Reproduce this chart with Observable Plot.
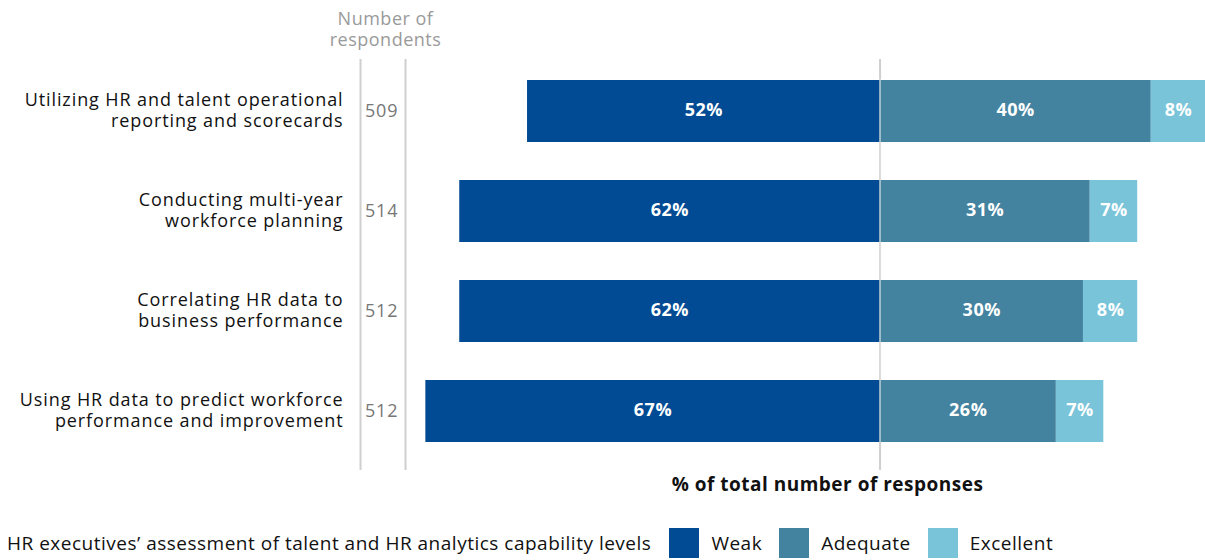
<!DOCTYPE html>
<html><head><meta charset="utf-8">
<script src="https://cdn.jsdelivr.net/npm/d3@7"></script>
<script src="https://cdn.jsdelivr.net/npm/@observablehq/plot@0.6"></script>
<style>
body{margin:0;background:#fff;font-family:"Open Sans",sans-serif;}
#chart svg{display:block}
#chart svg g[aria-label="y-axis tick label"]{letter-spacing:0.9px}
#legend{display:flex;align-items:center;height:30px;margin-top:16px;padding-left:7px;font-size:19px;letter-spacing:0.5px;color:#111;white-space:nowrap}
#legend .sw{width:30px;height:30px;display:inline-block;margin-right:12px}
#legend .title{margin-right:18px}
#legend .lab{margin-right:17px}
</style></head><body><div id="chart"></div><div id="legend"></div>
<script>
const activities = [
  "Utilizing HR and talent operational\nreporting and scorecards",
  "Conducting multi-year\nworkforce planning",
  "Correlating HR data to\nbusiness performance",
  "Using HR data to predict workforce\nperformance and improvement"
];
const respondents = [509, 514, 512, 512];
const levels = ["Weak", "Adequate", "Excellent"];
const weak = [52, 62, 62, 67];
const adequate = [40, 31, 30, 26];
const excellent = [8, 7, 8, 7];
const colors = ["#004b93", "#44839f", "#79c4d9"];
const legendTitle = "HR executives\u2019 assessment of talent and HR analytics capability levels";
const xTitle = "% of total number of responses";
const respTitle = "Number of\nrespondents";

const data = [];
activities.forEach((a, i) => {
  data.push({activity: a, level: "Weak", value: -weak[i]});
  data.push({activity: a, level: "Adequate", value: adequate[i]});
  data.push({activity: a, level: "Excellent", value: excellent[i]});
});

const plot = Plot.plot({
  width: 1205, height: 512,
  marginLeft: 405, marginRight: 0, marginTop: 59, marginBottom: 42,
  x: {domain: [-70, 48], axis: null},
  y: {domain: activities, paddingInner: 0.382, paddingOuter: 0.239, align: 0.417, label: null, axis: null},
  color: {domain: levels, range: colors},
  style: {fontFamily: "Open Sans", fontSize: "18px", background: "#fff", letterSpacing: "0.5px"},
  marks: [
    Plot.ruleX([-70], {stroke: "#cfcfcf", strokeWidth: 2, dx: -45}),
    Plot.ruleX([-70], {stroke: "#cfcfcf", strokeWidth: 2}),
    Plot.ruleX([0], {stroke: "#cfcfcf", strokeWidth: 2}),
    Plot.barX(data, Plot.stackX({x: "value", y: "activity", fill: "level", order: levels})),
    Plot.ruleX([0], {stroke: "#e8e8e8", strokeWidth: 1, insetTop: 20, insetBottom: 28}),
    Plot.text(data, Plot.stackX({x: "value", y: "activity", z: "level", order: levels,
      text: d => Math.abs(d.value) + "%", fill: "white", fontWeight: "bold", fontSize: 18, dy: -1})),
    Plot.axisY({tickSize: 0, tickPadding: 62, fontSize: 18, lineHeight: 1.2, fill: "#111", label: null, dy: -2}),
    Plot.axisY({tickSize: 0, tickPadding: 7, fontSize: 18, fill: "#777", label: null,
      tickFormat: d => respondents[activities.indexOf(d)]}),
    Plot.text([respTitle], {frameAnchor: "top-left", dx: -20, dy: -31, fill: "#9a9a9a",
      lineHeight: 1.2, textAnchor: "middle", lineAnchor: "middle", fontSize: 18}),
    Plot.text([xTitle], {frameAnchor: "bottom", dx: 22, dy: 20, fontWeight: "bold", fill: "#111", fontSize: 19})
  ]
});
document.getElementById("chart").appendChild(plot);

const lg = document.getElementById("legend");
const t = document.createElement("span");
t.className = "title"; t.textContent = legendTitle; lg.appendChild(t);
levels.forEach((l, i) => {
  const s = document.createElement("span");
  s.className = "sw"; s.style.background = colors[i]; lg.appendChild(s);
  const n = document.createElement("span");
  n.className = "lab"; n.textContent = l; lg.appendChild(n);
});
</script></body></html>
